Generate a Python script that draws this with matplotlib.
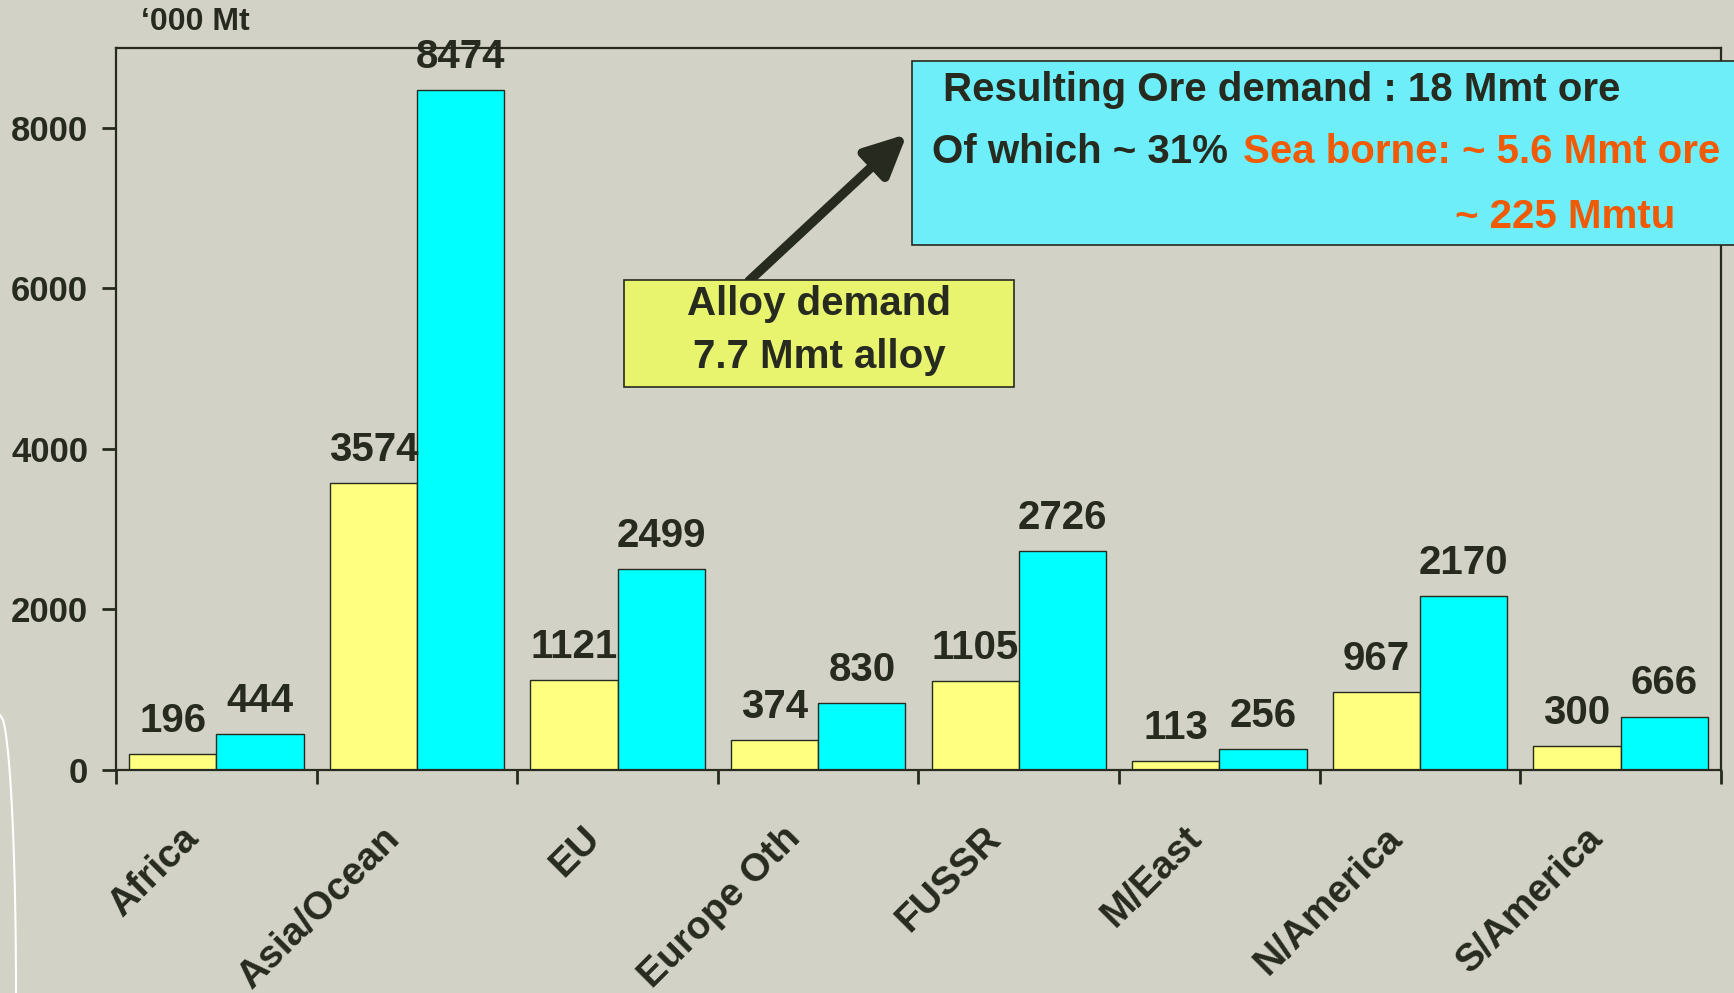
import numpy as np
import matplotlib
matplotlib.use("Agg")
import matplotlib.pyplot as plt
import matplotlib.transforms as mtransforms
from matplotlib.patches import Rectangle

# Data ('000 Mt)
regions = ["Africa", "Asia/Ocean", "EU", "Europe Oth", "FUSSR",
           "M/East", "N/America", "S/America"]
alloy = [196, 3574, 1121, 374, 1105, 113, 967, 300]
ore = [444, 8474, 2499, 830, 2726, 256, 2170, 666]
y_ticks = [0, 2000, 4000, 6000, 8000]

BG = "#D2D2C6"
DARK = "#272A1F"
YELLOW = "#FFFF80"
CYAN = "#00FFFF"
ORANGE = "#F05A05"

plt.rcParams["font.family"] = ["Liberation Sans", "DejaVu Sans"]
plt.rcParams["font.weight"] = "bold"

W, H = 1734, 993
fig = plt.figure(figsize=(W / 100, H / 100), dpi=100, facecolor=BG)
ax = fig.add_axes([116 / W, 1 - 770 / H, (1721 - 116) / W, (770 - 47.5) / H])
ax.set_facecolor(BG)

x = np.arange(len(regions))
bw = 0.435
b1 = ax.bar(x - bw / 2, alloy, bw, color=YELLOW, edgecolor=DARK, linewidth=1.0)
b2 = ax.bar(x + bw / 2, ore, bw, color=CYAN, edgecolor=DARK, linewidth=1.0)

for bars, vals in ((b1, alloy), (b2, ore)):
    for b, v in zip(bars, vals):
        ax.annotate(str(v), (b.get_x() + b.get_width() / 2, v),
                    xytext=(0, 16), textcoords="offset points",
                    ha="center", va="baseline", fontsize=29,
                    fontweight="bold", color=DARK)

ax.set_xlim(-0.5, len(regions) - 0.5)
ax.set_ylim(0, 9000)
ax.set_yticks(y_ticks)
ax.set_yticklabels([str(t) for t in y_ticks], fontsize=25, fontweight="bold", color=DARK)

# boundary ticks (unlabelled); category names drawn as rotated text below
ax.set_xticks(np.arange(len(regions) + 1) - 0.5)
ax.set_xticklabels([])
ax.tick_params(axis="x", length=10, width=2, color=DARK, direction="out")
ax.tick_params(axis="y", length=10, width=2, color=DARK, pad=10)

lbl_tr = ax.get_xaxis_transform() + mtransforms.ScaledTranslation(-0.23, -0.63, fig.dpi_scale_trans)
for i, name in enumerate(regions):
    ax.text(i, 0, name, transform=lbl_tr, rotation=45, rotation_mode="anchor",
            ha="right", va="center", fontsize=28, fontweight="bold", color=DARK,
            clip_on=False)

for s in ax.spines.values():
    s.set_color(DARK)
    s.set_linewidth(1.6)

fig.text(141 / W, 1 - 22 / H, "\u2018000 Mt", fontsize=23, fontweight="bold",
         color=DARK, ha="left", va="center")

# cyan callout box
fig.add_artist(Rectangle((912 / W, 1 - 245 / H), (W - 912) / W + 0.01, (245 - 61) / H,
                         transform=fig.transFigure, facecolor="#6EEEF8",
                         edgecolor=DARK, linewidth=1.2, zorder=5))
fig.text(943 / W, 1 - 90 / H, "Resulting Ore demand : 18 Mmt ore", fontsize=29,
         fontweight="bold", color=DARK, ha="left", va="center", zorder=6)
fig.text(932 / W, 1 - 152 / H, "Of which ~ 31% ", fontsize=29,
         fontweight="bold", color=DARK, ha="left", va="center", zorder=6)
fig.text(1243 / W, 1 - 152 / H, "Sea borne: ~ 5.6 Mmt ore", fontsize=29,
         fontweight="bold", color=ORANGE, ha="left", va="center", zorder=6)
fig.text(1455 / W, 1 - 217 / H, "~ 225 Mmtu", fontsize=29,
         fontweight="bold", color=ORANGE, ha="left", va="center", zorder=6)

# yellow callout box
fig.add_artist(Rectangle((624 / W, 1 - 387 / H), (1014 - 624) / W, (387 - 280) / H,
                         transform=fig.transFigure, facecolor="#E8F46E",
                         edgecolor=DARK, linewidth=1.2, zorder=5))
fig.text(819 / W, 1 - 304 / H, "Alloy demand", fontsize=29,
         fontweight="bold", color=DARK, ha="center", va="center", zorder=6)
fig.text(819 / W, 1 - 357 / H, "7.7 Mmt alloy", fontsize=29,
         fontweight="bold", color=DARK, ha="center", va="center", zorder=6)

# arrow from alloy box to ore box
ax.annotate("", xy=(907, H - 134), xycoords="figure pixels",
            xytext=(749, H - 281), textcoords="figure pixels",
            arrowprops=dict(arrowstyle="-|>,head_length=1.25,head_width=0.6",
                            lw=6.8, color=DARK, mutation_scale=20, shrinkA=0, shrinkB=0),
            zorder=7, annotation_clip=False)

# white decorative arc at the lower left
yy = np.linspace(715, H, 60)
xx = 16 * np.sqrt(1 - ((H - yy) / 278) ** 2)
fig.add_artist(plt.Line2D(xx / W, 1 - yy / H, transform=fig.transFigure,
                          color="white", lw=1.5))

fig.savefig("out.png", dpi=100, facecolor=BG)
